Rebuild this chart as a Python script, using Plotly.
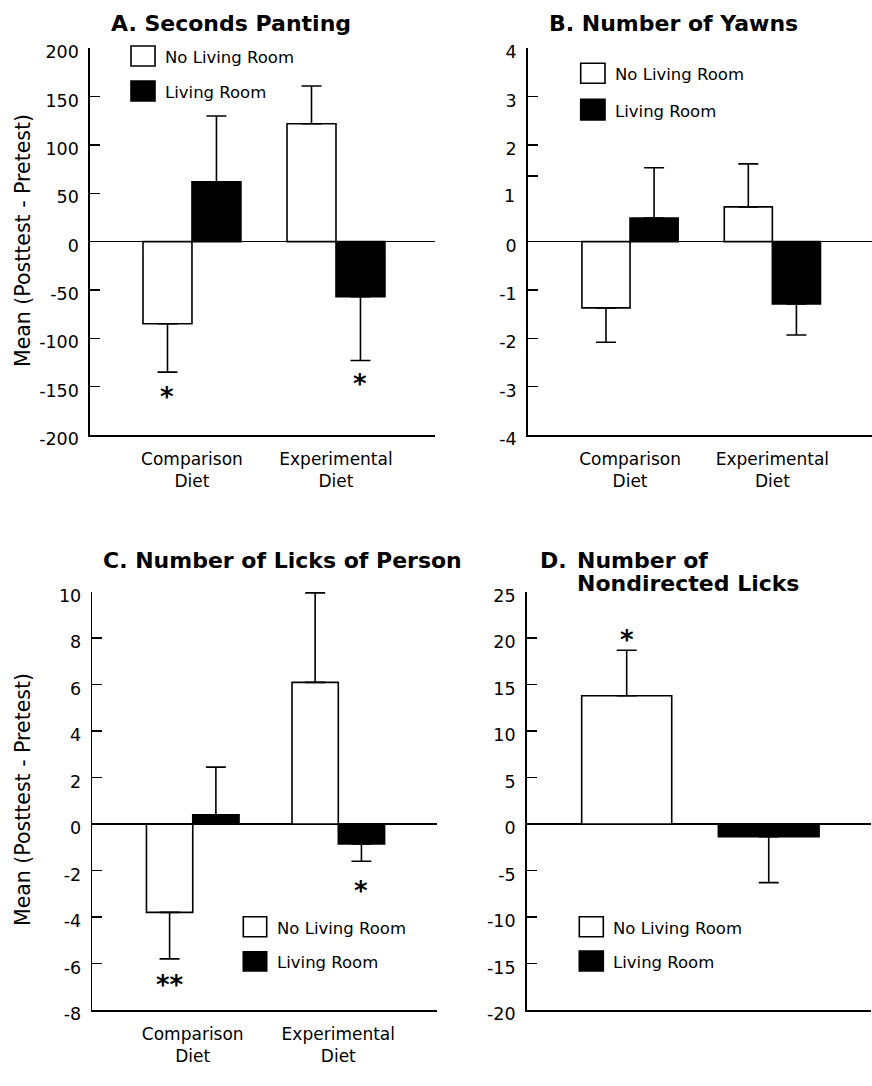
import plotly.graph_objects as go

W, H = 872, 1086
FONT = "DejaVu Sans"

# ---------------- data ----------------
categories = ["Comparison<br>Diet", "Experimental<br>Diet"]
series_names = ["No Living Room", "Living Room"]

panting_no_lr = [-85, 122]
panting_no_lr_err = [50, 39]
panting_lr = [62, -57]
panting_lr_err = [68, 66]

yawns_no_lr = [-1.37, 0.72]
yawns_no_lr_err = [0.71, 0.89]
yawns_lr = [0.49, -1.29]
yawns_lr_err = [1.04, 0.64]

licks_person_no_lr = [-3.8, 6.1]
licks_person_no_lr_err = [2.0, 3.85]
licks_person_lr = [0.4, -0.85]
licks_person_lr_err = [2.05, 0.75]

nondirected_no_lr = [13.8]
nondirected_no_lr_err = [4.9]
nondirected_lr = [-1.37]
nondirected_lr_err = [4.93]

panel_titles = ["A. Seconds Panting", "B. Number of Yawns",
                "C. Number of Licks of Person", "D.", "Number of", "Nondirected Licks"]
y_title = "Mean (Posttest - Pretest)"

ticks_a = [-200, -150, -100, -50, 0, 50, 100, 150, 200]
ticks_b = [-4, -3, -2, -1, 0, 1, 2, 3, 4]
ticks_c = [-8, -6, -4, -2, 0, 2, 4, 6, 8, 10]
ticks_d = [-20, -15, -10, -5, 0, 5, 10, 15, 20, 25]

# significance markers: panel, group index, series (0 = No LR, 1 = LR), y value, text
sig_panel = ["A", "A", "C", "C", "D"]
sig_group = [0, 1, 0, 1, 0]
sig_series = [0, 1, 0, 1, 0]
sig_y = [-155, -141, -6.65, -2.6, 20.4]
sig_text = ["*", "*", "**", "*", "*"]

# ---------------- helpers ----------------
def px(x):
    return x / W

def py(y):
    return 1 - y / H

def err_arrays(vals, errs):
    plus = [e if v >= 0 else 0 for v, e in zip(vals, errs)]
    minus = [0 if v >= 0 else e for v, e in zip(vals, errs)]
    return plus, minus

# panel layout (pixel geometry)
panels = {
    "A": dict(ax="", xpx=(90, 435), ypx=(48.3, 435), xr=(-0.708, 1.6875), yr=(-200, 200),
              ticks=ticks_a, bw=0.34,
              data=(panting_no_lr, panting_no_lr_err, panting_lr, panting_lr_err)),
    "B": dict(ax="2", xpx=(527.7, 872), ypx=(48.3, 435), xr=(-0.719, 1.70), yr=(-4, 4),
              ticks=ticks_b, bw=0.338,
              data=(yawns_no_lr, yawns_no_lr_err, yawns_lr, yawns_lr_err)),
    "C": dict(ax="3", xpx=(92.3, 436.7), ypx=(591.7, 1010), xr=(-0.69, 1.676), yr=(-8, 10),
              ticks=ticks_c, bw=0.318,
              data=(licks_person_no_lr, licks_person_no_lr_err, licks_person_lr, licks_person_lr_err)),
    "D": dict(ax="4", xpx=(526.7, 871), ypx=(591.7, 1010), xr=(-0.704, 1.72), yr=(-20, 25),
              ticks=ticks_d, bw=None,
              data=(nondirected_no_lr, nondirected_no_lr_err, nondirected_lr, nondirected_lr_err)),
}
d_widths = [0.634, 0.709]

fig = go.Figure()
fills = ["white", "black"]
LW = 1.6

for key, p in panels.items():
    xa, ya = "x" + p["ax"], "y" + p["ax"]
    no_v, no_e, lr_v, lr_e = p["data"]
    if key != "D":
        xs = list(range(len(no_v)))
        specs = [(xs, no_v, no_e, -p["bw"], p["bw"]), (xs, lr_v, lr_e, 0, p["bw"])]
    else:
        specs = [([0], no_v, no_e, -d_widths[0] / 2, d_widths[0]),
                 ([1], lr_v, lr_e, -d_widths[1] / 2, d_widths[1])]
    for s, (xs, vals, errs, off, wd) in enumerate(specs):
        plus, minus = err_arrays(vals, errs)
        fig.add_trace(go.Bar(
            x=xs, y=vals, name=series_names[s], xaxis=xa, yaxis=ya,
            width=wd, offset=off, showlegend=False,
            marker=dict(color=fills[s], line=dict(color="black", width=LW)),
            error_y=dict(type="data", symmetric=False, array=plus, arrayminus=minus,
                         color="black", thickness=LW, width=10),
        ))

    ax_suffix = p["ax"]
    xk = "xaxis" + ax_suffix
    yk = "yaxis" + ax_suffix
    tickvals = list(p["ticks"])
    ticktext = [str(t) for t in p["ticks"]]
    if key == "B":
        # the original figure draws the "1" tick mark slightly too high
        i = tickvals.index(1)
        tickvals[i] = 1.36
        ticktext[i] = ""
    fig.update_layout({
        xk: dict(domain=[px(p["xpx"][0]), px(p["xpx"][1])], range=list(p["xr"]),
                 anchor=ya, tickvals=[0, 1], ticktext=categories,
                 showticklabels=(key != "D"), ticks="", showline=True,
                 linecolor="black", linewidth=LW, showgrid=False, zeroline=False,
                 tickfont=dict(family=FONT, size=17, color="black"),
                 ticklabelstandoff=8, fixedrange=True),
        yk: dict(domain=[py(p["ypx"][1]), py(p["ypx"][0])], range=list(p["yr"]),
                 anchor=xa, tickvals=tickvals, ticktext=ticktext, ticks="inside",
                 ticklen=10, tickwidth=LW, tickcolor="black", showline=True,
                 linecolor="black", linewidth=LW, showgrid=False, zeroline=True,
                 zerolinecolor="black", zerolinewidth=LW,
                 tickfont=dict(family=FONT, size=17.5, color="black"),
                 ticklabelstandoff=6, ticklabelshift=4, fixedrange=True),
    })

annotations = []
# "1" label for panel B (its tick mark sits higher in the original)
annotations.append(dict(text="1", x=px(527.7 - 11), xref="paper", y=1, yref="y2",
                        xanchor="right", yanchor="middle", yshift=-3, showarrow=False,
                        font=dict(family=FONT, size=17.5, color="black")))

# titles
title_font = dict(family=FONT, size=22, color="black")
title_specs = [
    (panel_titles[0], 231.5, 23, "center"),
    (panel_titles[1], 673, 23, "center"),
    (panel_titles[2], 282.5, 560, "center"),
    (panel_titles[3], 538, 560, "left"),
    (panel_titles[4], 575, 560, "left"),
    (panel_titles[5], 575, 583, "left"),
]
for txt, xp, yp, anc in title_specs:
    annotations.append(dict(text="<b>%s</b>" % txt, x=px(xp), y=py(yp), xref="paper", yref="paper",
                            xanchor=anc, yanchor="middle", showarrow=False, font=title_font))

# y axis titles
for yc in (241, 800):
    annotations.append(dict(text=y_title, x=px(23), y=py(yc), xref="paper", yref="paper",
                            xanchor="center", yanchor="middle", textangle=-90, showarrow=False,
                            font=dict(family=FONT, size=20.5, color="black")))

# significance asterisks
for pan, g, s, yv, t in zip(sig_panel, sig_group, sig_series, sig_y, sig_text):
    p = panels[pan]
    if pan == "D":
        xc = g
    else:
        xc = g - p["bw"] / 2 if s == 0 else g + p["bw"] / 2
    annotations.append(dict(text="<b>%s</b>" % t, x=xc, y=yv, xref="x" + p["ax"], yref="y" + p["ax"],
                            xanchor="center", yanchor="middle", yshift=-6, showarrow=False,
                            font=dict(family=FONT, size=26, color="black")))

# legends (drawn as boxes + labels)
legend_boxes = {
    "A": (131, 155, 46, 66, 81, 101),
    "B": (580.7, 605, 63.3, 83.3, 99.3, 120),
    "C": (243.3, 266.7, 916.7, 936.7, 951.7, 971),
    "D": (579.3, 603.3, 916.7, 936.7, 951, 971),
}
shapes = []
for key, (x0, x1, a0, a1, b0, b1) in legend_boxes.items():
    for s, (y0, y1) in enumerate(((a0, a1), (b0, b1))):
        shapes.append(dict(type="rect", xref="paper", yref="paper",
                           x0=px(x0), x1=px(x1), y0=py(y1), y1=py(y0),
                           fillcolor=fills[s], line=dict(color="black", width=LW)))
        annotations.append(dict(text=series_names[s], x=px(x1 + 8), y=py((y0 + y1) / 2 + 1.5),
                                xref="paper", yref="paper", xanchor="left", yanchor="middle",
                                showarrow=False, font=dict(family=FONT, size=16.5, color="black")))

fig.update_layout(
    width=W, height=H, margin=dict(l=0, r=0, t=0, b=0, autoexpand=False),
    paper_bgcolor="white", plot_bgcolor="white",
    barmode="group", showlegend=False,
    annotations=annotations, shapes=shapes,
    font=dict(family=FONT, color="black"),
)

fig.write_html(
    "out.html",
    config={"displayModeBar": False, "staticPlot": True},
    post_script=(
        "document.documentElement.style.margin='0';document.documentElement.style.padding='0';"
        "document.body.style.margin='0';document.body.style.padding='0';"
        "document.body.style.overflow='hidden';"
        "var gd=document.getElementById('{plot_id}');"
        "gd.style.position='fixed';gd.style.top='0px';gd.style.left='0px';"
    ),
)
